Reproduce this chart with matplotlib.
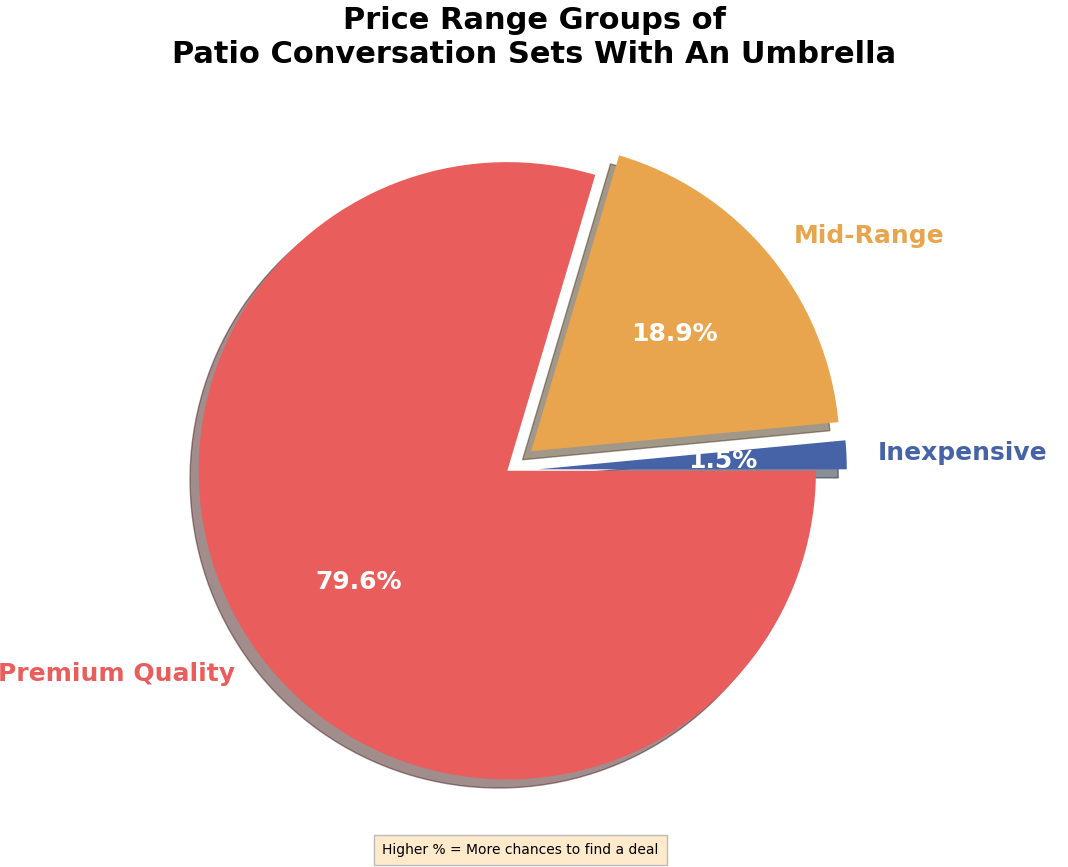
import matplotlib
matplotlib.use("Agg")
import matplotlib.pyplot as plt

categories = ["Inexpensive", "Mid-Range", "Premium Quality"]
shares = [1.5, 18.9, 79.6]
colors = ["#4763A8", "#E8A54E", "#E95D5C"]
explode = [0.1, 0.1, 0.0]

fig = plt.figure(figsize=(10.68, 8.67), dpi=100)
ax = fig.add_axes([0.0, 0.012, 0.95, 0.89])
wedges, texts, autotexts = ax.pie(shares, labels=categories, colors=colors, explode=explode,
                                  autopct="%1.1f%%", shadow=True, startangle=0,
                                  labeldistance=1.1, pctdistance=0.6)
for t, c in zip(texts, colors):
    t.set_color(c); t.set_fontsize(18); t.set_fontweight("bold")
for t in autotexts:
    t.set_color("white"); t.set_fontsize(18); t.set_fontweight("bold")
ax.set_aspect("equal")
fig.suptitle("Price Range Groups of\nPatio Conversation Sets With An Umbrella",
             fontsize=22, fontweight="bold", y=0.993)
fig.text(0.487, 0.015, "Higher % = More chances to find a deal", ha="center", fontsize=10,
         bbox=dict(boxstyle="square,pad=0.6", facecolor="#FFEBCC", edgecolor="#BBBBBB"))
fig.savefig("out.png", dpi=100)
